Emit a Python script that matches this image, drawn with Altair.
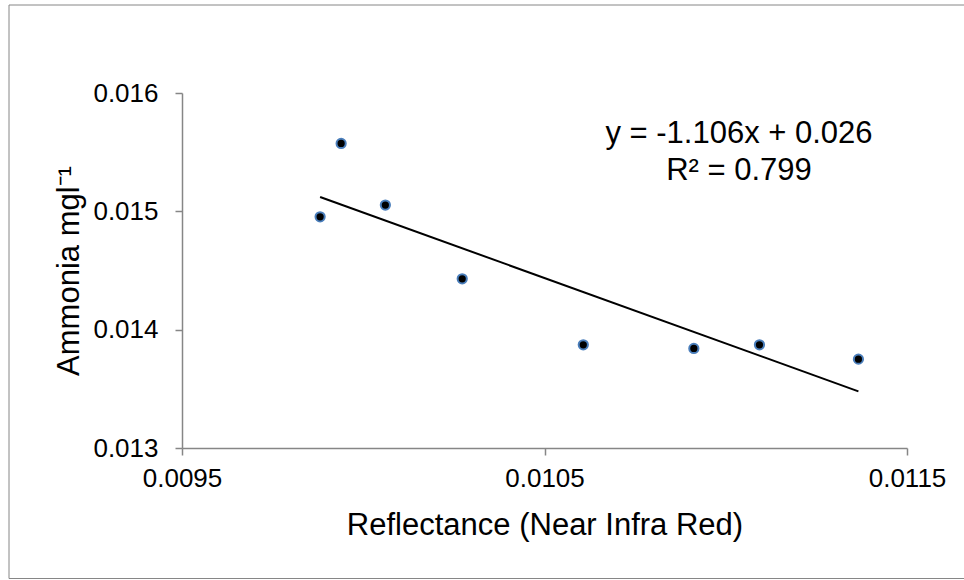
import altair as alt
import pandas as pd

# Data
reflectance = [0.009881, 0.009939, 0.010061, 0.010273, 0.010607, 0.010912, 0.011093, 0.011366]
ammonia = [0.014954, 0.015574, 0.015053, 0.014430, 0.013872, 0.013841, 0.013872, 0.013751]
x_ticks = [0.0095, 0.0105, 0.0115]
y_ticks = [0.013, 0.014, 0.015, 0.016]
equation_lines = ["y = -1.106x + 0.026", "R² = 0.799"]

df = pd.DataFrame({"x": reflectance, "y": ammonia})

FONT = "Liberation Sans"
AXIS_COLOR = "#868686"

x_enc = alt.X(
    "x:Q",
    scale=alt.Scale(domain=[0.0095, 0.0115], nice=False, zero=False),
    axis=alt.Axis(
        values=x_ticks, format=".4f", title="Reflectance (Near Infra Red)",
        grid=False, domainColor=AXIS_COLOR, tickColor=AXIS_COLOR, tickSize=7,
        domainWidth=1.5, tickWidth=1.5,
        labelFont=FONT, labelFontSize=26, labelColor="#000000", labelPadding=10,
        titleFont=FONT, titleFontSize=31, titleFontWeight="normal", titleColor="#000000",
        titleY=86, titleBaseline="alphabetic", labelFlush=False,
    ),
)
y_enc = alt.Y(
    "y:Q",
    scale=alt.Scale(domain=[0.013, 0.016], nice=False, zero=False),
    axis=alt.Axis(
        values=y_ticks, format=".3f", title="Ammonia mgl⁻¹",
        grid=False, domainColor=AXIS_COLOR, tickColor=AXIS_COLOR, tickSize=7,
        domainWidth=1.5, tickWidth=1.5,
        labelFont=FONT, labelFontSize=26, labelColor="#000000", labelPadding=17,
        titleFont=FONT, titleFontSize=31, titleFontWeight="normal", titleColor="#000000",
        titleX=-113, titleY=177.5, titleBaseline="middle", titleAngle=-90, labelFlush=False,
    ),
)

base = alt.Chart(df)

points = base.mark_point(
    filled=True, shape="circle", size=85, fill="#000000",
    stroke="#4a7ebb", strokeWidth=2, opacity=1,
).encode(x=x_enc, y=y_enc)

trend = base.transform_regression("x", "y").mark_line(
    color="#000000", strokeWidth=2
).encode(x="x:Q", y="y:Q")

eq_df = pd.DataFrame({"line": [0, 1], "text": equation_lines})
eq1 = alt.Chart(eq_df).transform_filter("datum.line == 0").mark_text(
    font=FONT, fontSize=31, align="center", baseline="alphabetic", color="#000000"
).encode(text="text:N", x=alt.value(557), y=alt.value(50.3))
eq2 = alt.Chart(eq_df).transform_filter("datum.line == 1").mark_text(
    font=FONT, fontSize=31, align="center", baseline="alphabetic", color="#000000"
).encode(text="text:N", x=alt.value(557), y=alt.value(87))

border = alt.Chart(pd.DataFrame({"a": [0]})).mark_rect(
    fill="transparent", stroke=AXIS_COLOR, strokeWidth=1
).encode(x=alt.value(-173), x2=alt.value(790), y=alt.value(-88), y2=alt.value(485.5))

chart = alt.layer(border, trend, points, eq1, eq2).properties(
    width=725, height=355,
    autosize=alt.AutoSizeParams(type="none"),
    padding={"left": 182, "top": 93, "right": 57, "bottom": 132},
    background="#ffffff",
).configure_view(stroke=None)

chart.save("out.html", embed_options={"renderer": "svg", "actions": False})
